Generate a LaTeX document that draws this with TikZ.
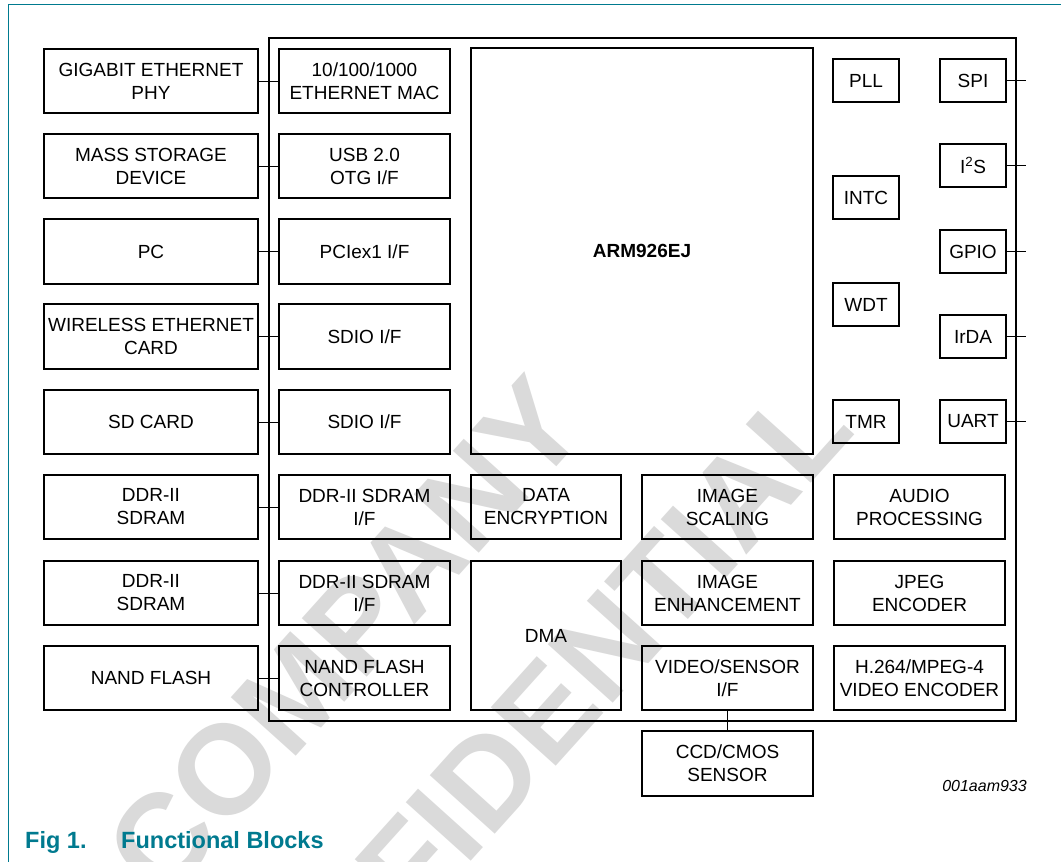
\documentclass[tikz,border=0pt]{standalone}
\usepackage{fontspec}
\setmainfont{Liberation Sans}
\definecolor{nxpteal}{RGB}{0,122,143}
\definecolor{wmgray}{RGB}{218,218,218}
\newcommand\mkblk[6]{%
  \pgfmathsetmacro\bxcx{(#2+#4)/2}%
  \pgfmathsetmacro\bxcy{(#3+#5)/2}%
  \pgfmathsetmacro\bxw{#4-#2}%
  \pgfmathsetmacro\bxh{#5-#3}%
  \node[blk, minimum width=\bxw pt, minimum height=\bxh pt] (#1) at (\bxcx,\bxcy) {#6};}
\begin{document}
\begin{tikzpicture}[x=1pt,y=-1pt,
  blk/.style={draw, line width=2pt, align=center, inner sep=0pt, outer sep=0pt,
    font={\fontsize{19}{23}\selectfont}},
  conn/.style={line width=1pt},
  wm/.style={text=wmgray, inner sep=0pt, font={\fontsize{127}{150}\selectfont\bfseries}},
  figcap/.style={text=nxpteal, inner sep=0pt, anchor=base west, font={\fontsize{23.5}{28}\selectfont\bfseries}}]
\useasboundingbox (0,0) rectangle (1061,862);
\clip (0,0) rectangle (1061,862);
\fill[white] (0,0) rectangle (1061,862);
% watermark
\node[wm, rotate=48] (wm1) at (345,637) {COMPANY};
\node[wm, rotate=48] (wm2) at (509,754) {CONFIDENTIAL};
% frame
\draw[nxpteal, line width=1pt] (8,862) -- (8,4.5) -- (1061,4.5);
% chip
\mkblk{chip}{269}{38}{1016}{721}{}
% left column
\mkblk{l1}{44}{49}{258}{113}{GIGABIT ETHERNET\\PHY}
\mkblk{l2}{44}{134}{258}{198}{MASS STORAGE\\DEVICE}
\mkblk{l3}{44}{219}{258}{284}{PC}
\mkblk{l4}{44}{304}{258}{369}{WIRELESS ETHERNET\\CARD}
\mkblk{l5}{44}{390}{258}{454}{SD CARD}
\mkblk{l6}{44}{475}{258}{539}{DDR-II\\SDRAM}
\mkblk{l7}{44}{561}{258}{625}{DDR-II\\SDRAM}
\mkblk{l8}{44}{646}{258}{710}{NAND FLASH}
% second column
\mkblk{m1}{279}{49}{450}{113}{10/100/1000\\ETHERNET MAC}
\mkblk{m2}{279}{134}{450}{198}{USB 2.0\\OTG I/F}
\mkblk{m3}{279}{219}{450}{284}{PCIex1 I/F}
\mkblk{m4}{279}{304}{450}{369}{SDIO I/F}
\mkblk{m5}{279}{390}{450}{454}{SDIO I/F}
\mkblk{m6}{279}{475}{450}{539}{DDR-II SDRAM\\I/F}
\mkblk{m7}{279}{561}{450}{625}{DDR-II SDRAM\\I/F}
\mkblk{m8}{279}{646}{450}{710}{NAND FLASH\\CONTROLLER}
% core
\mkblk{arm}{471}{48}{813}{454}{\bfseries ARM926EJ}
\mkblk{enc}{471}{475}{621}{539}{DATA\\ENCRYPTION}
\mkblk{dma}{471}{561}{621}{710}{DMA}
\mkblk{scal}{642}{475}{813}{539}{IMAGE\\SCALING}
\mkblk{enh}{642}{561}{813}{625}{IMAGE\\ENHANCEMENT}
\mkblk{vid}{642}{646}{813}{710}{VIDEO/SENSOR\\I/F}
\mkblk{aud}{834}{475}{1005}{539}{AUDIO\\PROCESSING}
\mkblk{jpeg}{834}{561}{1005}{625}{JPEG\\ENCODER}
\mkblk{h264}{834}{646}{1005}{710}{H.264/MPEG-4\\VIDEO ENCODER}
\mkblk{ccd}{642}{731}{813}{796}{CCD/CMOS\\SENSOR}
% small blocks
\mkblk{pll}{833}{59}{899}{102}{PLL}
\mkblk{intc}{833}{176}{899}{219}{INTC}
\mkblk{wdt}{833}{283}{899}{326}{WDT}
\mkblk{tmr}{833}{400}{899}{443}{TMR}
\mkblk{spi}{940}{59}{1006}{102}{SPI}
\mkblk{iis}{940}{144}{1006}{187}{I\textsuperscript{2}S}
\mkblk{gpio}{940}{230}{1006}{273}{GPIO}
\mkblk{irda}{940}{315}{1006}{358}{IrDA}
\mkblk{uart}{940}{400}{1006}{443}{UART}
% connectors
\foreach \i in {1,...,8}{\draw[conn] (l\i.east) -- (m\i.west);}
\coordinate (stubx) at (1026,0);
\foreach \n in {spi,iis,gpio,irda,uart}{\draw[conn] (\n.east) -- (\n.east -| stubx);}
\draw[conn] (vid.south) -- (ccd.north);
% labels
\node[anchor=base east, inner sep=0pt, font={\fontsize{16}{19}\selectfont\itshape}] (code) at (1027,791) {001aam933};
\node[figcap] (figno) at (25,848) {Fig 1.};
\node[figcap] (figtitle) at (121,848) {Functional Blocks};
\end{tikzpicture}
\end{document}
